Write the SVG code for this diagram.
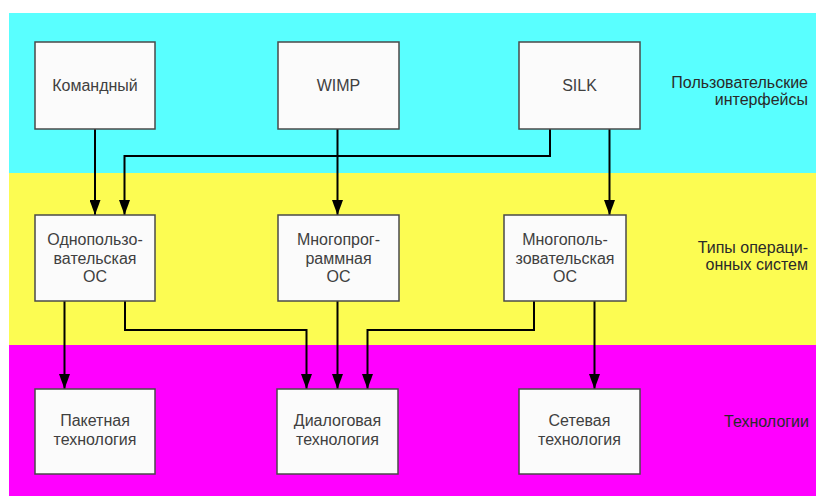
<svg xmlns="http://www.w3.org/2000/svg" width="816" height="496" viewBox="0 0 816 496">
  <style>
    .band-c { fill: #59ffff; }
    .band-y { fill: #fcfc52; }
    .band-m { fill: #ff00ff; }
    .box { fill: #fbfbfb; stroke: #4a4a4a; stroke-width: 1.5; }
    .t { font-family: "Liberation Sans", Arial, sans-serif; font-size: 16px; fill: #404040; text-anchor: middle; }
    .lbl { font-family: "Liberation Sans", Arial, sans-serif; font-size: 16px; fill: #2a2a2a; text-anchor: end; }
    .c { fill: none; stroke: #000; stroke-width: 2; marker-end: url(#arr); }
  </style>
  <defs>
    <marker id="arr" markerUnits="userSpaceOnUse" markerWidth="15" markerHeight="11" refX="15" refY="5.5" orient="auto">
      <path d="M0,0 L15,5.5 L0,11 z" fill="#000"/>
    </marker>
  </defs>
  <rect x="0" y="0" width="816" height="496" fill="#ffffff"/>
  <rect class="band-c" x="9" y="13" width="807" height="160"/>
  <rect class="band-y" x="9" y="173" width="807" height="172"/>
  <rect class="band-m" x="9" y="345" width="807" height="151"/>

  <g id="labels">
    <text class="lbl" x="808" y="88">Пользовательские</text>
    <text class="lbl" x="808" y="105">интерфейсы</text>
    <text class="lbl" x="808" y="253">Типы операци-</text>
    <text class="lbl" x="808" y="270">онных систем</text>
    <text class="lbl" x="809" y="427">Технологии</text>
  </g>

  <g id="connectors">
    <path class="c" d="M95,129 V215"/>
    <path class="c" d="M550,129 V156 H124.5 V215"/>
    <path class="c" d="M337.5,129 V215"/>
    <path class="c" d="M609.5,129 V215"/>
    <path class="c" d="M64.5,301 V389"/>
    <path class="c" d="M125,301 V330 H306.5 V389"/>
    <path class="c" d="M337.5,301 V389"/>
    <path class="c" d="M534,301 V330 H367.5 V389"/>
    <path class="c" d="M594.5,301 V389"/>
  </g>

  <g id="n-komandny">
    <rect class="box" x="35" y="42" width="120" height="87"/>
    <text class="t" x="95" y="91">Командный</text>
  </g>
  <g id="n-wimp">
    <rect class="box" x="278" y="42" width="121" height="87"/>
    <text class="t" x="338.5" y="91">WIMP</text>
  </g>
  <g id="n-silk">
    <rect class="box" x="519" y="42" width="121" height="87"/>
    <text class="t" x="579.5" y="91">SILK</text>
  </g>

  <g id="n-odnopolz">
    <rect class="box" x="35" y="215" width="120" height="86"/>
    <text class="t" x="95" y="245">Однопользо-</text>
    <text class="t" x="95" y="263.5">вательская</text>
    <text class="t" x="95" y="282">ОС</text>
  </g>
  <g id="n-mnogoprog">
    <rect class="box" x="278" y="215" width="121" height="86"/>
    <text class="t" x="338.5" y="245">Многопрог-</text>
    <text class="t" x="338.5" y="263.5">раммная</text>
    <text class="t" x="338.5" y="282">ОС</text>
  </g>
  <g id="n-mnogopolz">
    <rect class="box" x="504" y="215" width="122" height="86"/>
    <text class="t" x="565" y="245">Многополь-</text>
    <text class="t" x="565" y="263.5">зовательская</text>
    <text class="t" x="565" y="282">ОС</text>
  </g>

  <g id="n-paket">
    <rect class="box" x="35" y="389" width="120" height="85"/>
    <text class="t" x="95" y="426">Пакетная</text>
    <text class="t" x="95" y="445">технология</text>
  </g>
  <g id="n-dialog">
    <rect class="box" x="277" y="389" width="121" height="85"/>
    <text class="t" x="337.5" y="426">Диалоговая</text>
    <text class="t" x="337.5" y="445">технология</text>
  </g>
  <g id="n-setevaya">
    <rect class="box" x="519" y="389" width="121" height="85"/>
    <text class="t" x="579.5" y="426">Сетевая</text>
    <text class="t" x="579.5" y="445">технология</text>
  </g>
</svg>
